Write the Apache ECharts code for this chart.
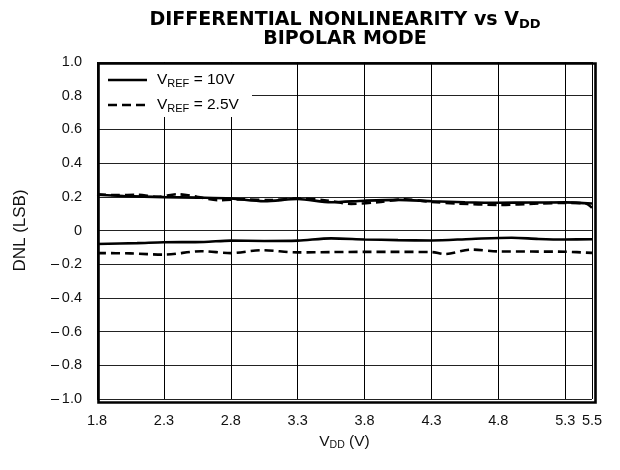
<!DOCTYPE html>
<html>
<head>
<meta charset="utf-8">
<script src="https://cdn.jsdelivr.net/npm/echarts@6/dist/echarts.min.js"></script>
<style>html,body{margin:0;padding:0;background:#fff}#c{width:620px;height:470px}</style>
</head>
<body>
<div id="c"></div>
<script>
// ---- data ----
var vdd10Max = [1.8, 2.0, 2.3, 2.55, 2.8, 3.05, 3.3, 3.55, 3.8, 4.05, 4.3, 4.55, 4.8, 5.05, 5.3, 5.5];
var dnl10Max = [0.212, 0.205, 0.198, 0.195, 0.19, 0.174, 0.187, 0.168, 0.177, 0.182, 0.174, 0.168, 0.165, 0.166, 0.167, 0.16];
var vdd10Min = [1.8, 2.1, 2.3, 2.6, 2.8, 3.05, 3.3, 3.55, 3.8, 4.05, 4.3, 4.6, 4.9, 5.1, 5.3, 5.5];
var dnl10Min = [-0.08, -0.075, -0.07, -0.068, -0.06, -0.062, -0.06, -0.047, -0.053, -0.057, -0.059, -0.05, -0.043, -0.05, -0.053, -0.052];
var vdd25Max = [1.8, 1.95, 2.1, 2.25, 2.4, 2.55, 2.7, 2.9, 3.1, 3.3, 3.5, 3.7, 3.9, 4.1, 4.3, 4.5, 4.8, 5.1, 5.3, 5.45, 5.5];
var dnl25Max = [0.215, 0.21, 0.212, 0.2, 0.215, 0.2, 0.18, 0.185, 0.18, 0.19, 0.18, 0.158, 0.168, 0.185, 0.17, 0.16, 0.152, 0.16, 0.164, 0.16, 0.135];
var vdd25Min = [1.8, 2.05, 2.3, 2.58, 2.8, 3.03, 3.3, 3.55, 3.8, 4.05, 4.3, 4.4, 4.6, 4.8, 5.05, 5.3, 5.5];
var dnl25Min = [-0.134, -0.136, -0.143, -0.123, -0.134, -0.117, -0.13, -0.128, -0.127, -0.127, -0.128, -0.14, -0.113, -0.124, -0.125, -0.126, -0.133];
var xTicks = [1.8, 2.3, 2.8, 3.3, 3.8, 4.3, 4.8, 5.3, 5.5];
var yTicks = [-1.0, -0.8, -0.6, -0.4, -0.2, 0, 0.2, 0.4, 0.6, 0.8, 1.0];
var legendNames = ['10V', '2.5V'];

function pairs(xs, ys) { return xs.map(function (x, i) { return [x, ys[i]]; }); }
function fmtY(v) {
  var r = Math.round(v * 10) / 10;
  if (Math.abs(r) < 1e-9) return '0';
  var s = Math.abs(r).toFixed(1);
  return (r < 0 ? '\u2013\u2009' : '') + s;
}

var FONT = 'Liberation Sans, Arial, Helvetica, sans-serif';
var TFONT = 'DejaVu Sans, Liberation Sans, Arial, sans-serif';
var chart = echarts.init(document.getElementById('c'), null, { renderer: 'canvas' });

var lineSolid = { color: '#000', width: 2.6, type: 'solid' };
var lineDash = { color: '#000', width: 2.6, type: [9, 5] };

var option = {
  backgroundColor: '#fff',
  animation: false,
  title: {
    text: '{b|DIFFERENTIAL NONLINEARITY vs V}{s|DD}\n{b|BIPOLAR MODE}',
    left: 340, top: 6, textAlign: 'center',
    textStyle: {
      rich: {
        b: { fontFamily: TFONT, fontWeight: 'bold', fontSize: 19, color: '#000', lineHeight: 19 },
        s: { fontFamily: TFONT, fontWeight: 'bold', fontSize: 13, color: '#000', lineHeight: 19, padding: [8, 0, 0, 0] }
      }
    }
  },
  grid: { left: 97, top: 62, right: 28, bottom: 71, show: false },
  xAxis: {
    type: 'value', min: 1.8, max: 5.5, interval: 0.5,
    axisLine: { show: false },
    axisTick: { show: false },
    splitLine: { show: true, lineStyle: { color: '#000', width: 1 } },
    axisLabel: {
      margin: 14, fontFamily: FONT, fontSize: 14.5, color: '#111',
      showMaxLabel: true,
      formatter: function (v) { return v.toFixed(1); }
    },
    name: '{n|V}{s|DD}{n| (V)}',
    nameLocation: 'middle', nameGap: 32,
    nameTextStyle: {
      rich: {
        n: { fontFamily: FONT, fontSize: 15.5, color: '#111', lineHeight: 18 },
        s: { fontFamily: FONT, fontSize: 10.5, color: '#111', lineHeight: 18, padding: [7, 0, 0, 0] }
      }
    }
  },
  yAxis: {
    type: 'value', min: -1.0, max: 1.0, interval: 0.2,
    axisLine: { show: false },
    axisTick: { show: false },
    splitLine: { show: true, lineStyle: { color: '#222', width: 1 } },
    axisLabel: {
      margin: 15, fontFamily: FONT, fontSize: 14.5, color: '#111',
      formatter: fmtY
    },
    name: 'DNL (LSB)', nameLocation: 'middle', nameGap: 68, nameRotate: 90,
    nameTextStyle: { fontFamily: FONT, fontSize: 17, color: '#111' }
  },
  series: [
    { type: 'line', name: legendNames[0] + ' max', data: pairs(vdd10Max, dnl10Max), showSymbol: false, smooth: 0.3, lineStyle: lineSolid, z: 3 },
    { type: 'line', name: legendNames[0] + ' min', data: pairs(vdd10Min, dnl10Min), showSymbol: false, smooth: 0.3, lineStyle: lineSolid, z: 3 },
    { type: 'line', name: legendNames[1] + ' max', data: pairs(vdd25Max, dnl25Max), showSymbol: false, smooth: 0.3, lineStyle: lineDash, z: 3 },
    { type: 'line', name: legendNames[1] + ' min', data: pairs(vdd25Min, dnl25Min), showSymbol: false, smooth: 0.3, lineStyle: lineDash, z: 3 }
  ],
  graphic: [
    { type: 'rect', left: 98, top: 63, z: 10, shape: { width: 154, height: 54 }, style: { fill: '#fff' } },
    { type: 'line', z: 11, shape: { x1: 108, y1: 80, x2: 147, y2: 80 }, style: { stroke: '#000', lineWidth: 2.6 } },
    { type: 'line', z: 11, shape: { x1: 108, y1: 105, x2: 150, y2: 105 }, style: { stroke: '#000', lineWidth: 2.6, lineDash: [9, 5] } },
    { type: 'text', z: 11, left: 157, top: 71, style: {
        text: '{n|V}{s|REF}{n| = ' + legendNames[0] + '}',
        rich: {
          n: { fontFamily: FONT, fontSize: 15.5, fill: '#000', lineHeight: 18 },
          s: { fontFamily: FONT, fontSize: 11, fill: '#000', lineHeight: 18, padding: [7, 0, 0, 0] }
        } } },
    { type: 'text', z: 11, left: 157, top: 96, style: {
        text: '{n|V}{s|REF}{n| = ' + legendNames[1] + '}',
        rich: {
          n: { fontFamily: FONT, fontSize: 15.5, fill: '#000', lineHeight: 18 },
          s: { fontFamily: FONT, fontSize: 11, fill: '#000', lineHeight: 18, padding: [7, 0, 0, 0] }
        } } },
    { type: 'rect', z: 12, left: 96, top: 61, shape: { width: 497, height: 339 }, style: { fill: 'none', stroke: '#000', lineWidth: 2.6 } }
  ]
};
chart.setOption(option);
</script>
</body>
</html>
